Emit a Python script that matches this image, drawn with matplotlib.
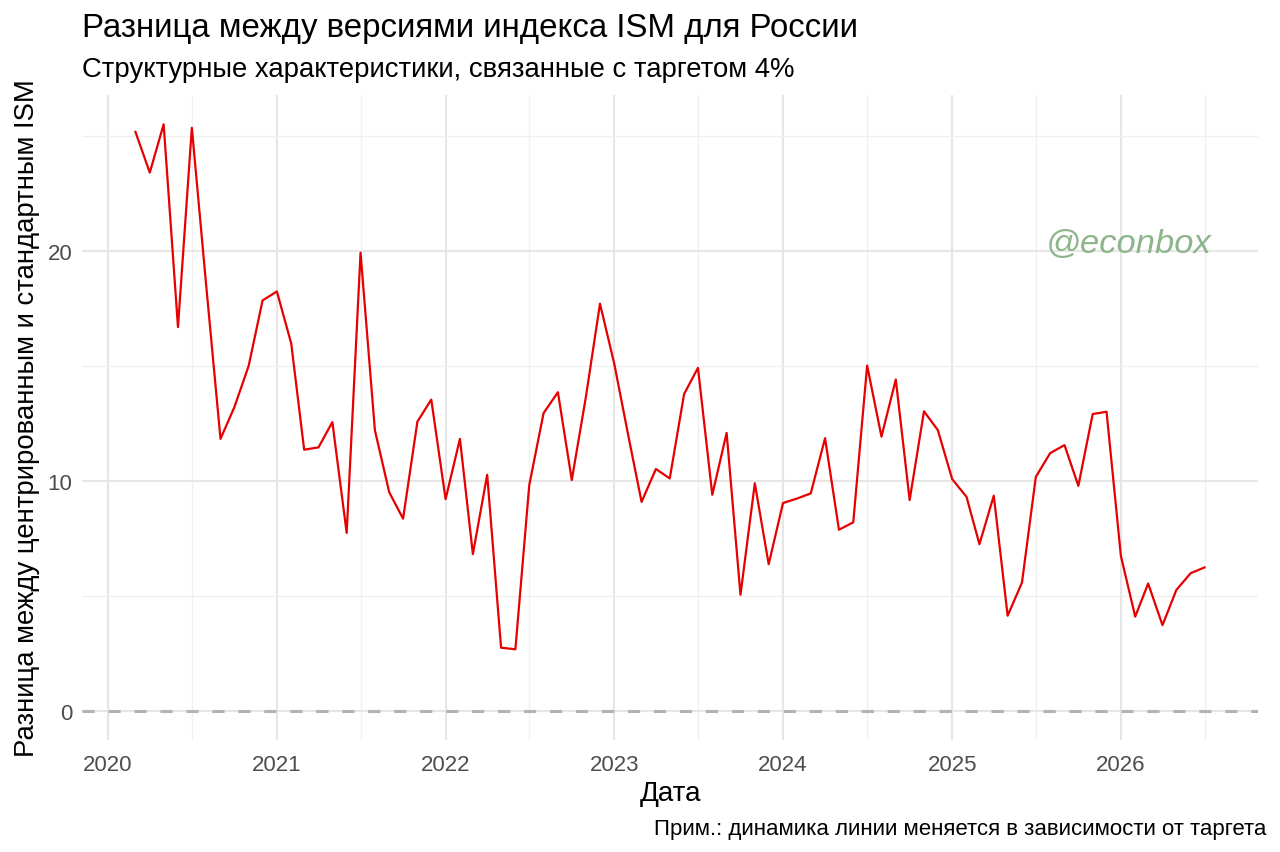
import matplotlib
matplotlib.use("Agg")
import matplotlib.pyplot as plt
import matplotlib.dates as mdates
import pandas as pd

plt.rcParams['font.family'] = ['Liberation Sans', 'DejaVu Sans']

start_month = "2020-03-01"
values = [
    # 2020 (Mar-Dec)
    25.17, 23.4, 25.5, 16.68, 25.35, 18.5, 11.82, 13.2, 15.0, 17.84,
    # 2021
    18.23, 15.97, 11.35, 11.45, 12.55, 7.73, 19.92, 12.2, 9.5, 8.35, 12.57, 13.53,
    # 2022
    9.2, 11.82, 6.81, 10.26, 2.74, 2.67, 9.81, 12.94, 13.85, 10.03, 13.7, 17.7,
    # 2023
    15.08, 11.89, 9.08, 10.51, 10.1, 13.77, 14.91, 9.39, 12.08, 5.04, 9.89, 6.37,
    # 2024
    9.03, 9.23, 9.45, 11.85, 7.87, 8.19, 15.01, 11.92, 14.4, 9.16, 13.02, 12.2,
    # 2025
    10.07, 9.3, 7.24, 9.35, 4.13, 5.57, 10.17, 11.2, 11.55, 9.78, 12.9, 13.0,
    # 2026 (Jan-Jul)
    6.73, 4.09, 5.53, 3.72, 5.25, 5.98, 6.23,
]
dates = pd.date_range(start_month, periods=len(values), freq="MS")

title = "Разница между версиями индекса ISM для России"
subtitle = "Структурные характеристики, связанные с таргетом 4%"
xlabel = "Дата"
ylabel = "Разница между центрированным и стандартным ISM"
caption = "Прим.: динамика линии меняется в зависимости от таргета"
watermark = "@econbox"
y_major = [0, 10, 20]
y_minor = [5, 15, 25]

fig = plt.figure(figsize=(12.8, 8.53), dpi=100)
ax = fig.add_axes([82/1280, 1-741/853, (1258-82)/1280, (741-96)/853])

ax.axhline(0, color="#b3b3b3", lw=2.2, ls=(0, (4, 4.5)), zorder=2)
ax.plot(dates, values, color="#e60000", lw=1.6, zorder=3)

ax.margins(x=0.05)
vmax = max(values)
ax.set_ylim(-0.05*vmax, vmax*1.05)

ax.xaxis.set_major_locator(mdates.YearLocator())
ax.xaxis.set_major_formatter(mdates.DateFormatter("%Y"))
ax.xaxis.set_minor_locator(mdates.MonthLocator(bymonth=7))
ax.set_yticks(y_major)
ax.set_yticks(y_minor, minor=True)

for s in ax.spines.values():
    s.set_visible(False)
ax.grid(which="major", color="#e6e6e6", lw=1.5, zorder=0)
ax.grid(which="minor", color="#f0f0f0", lw=1.0, zorder=0)
ax.set_axisbelow(True)
ax.tick_params(which="both", length=0, labelsize=16, labelcolor="#4d4d4d")
ax.tick_params(axis="x", pad=10)
ax.tick_params(axis="y", pad=7)

ax.set_xlabel(xlabel, fontsize=20, labelpad=4)
ax.set_ylabel(ylabel, fontsize=19.8, labelpad=5)

fig.text(82/1280, 1-28/853, title, fontsize=23.8, va="center", ha="left")
fig.text(82/1280, 1-70/853, subtitle, fontsize=19.8, va="center", ha="left")
fig.text(1266/1280, 1-830/853, caption, fontsize=16, va="center", ha="right")
fig.text(1129/1280, 1-245/853, watermark, fontsize=24.8, style="italic",
         color="#8db58a", va="center", ha="center")

fig.savefig("out.png", dpi=100)
